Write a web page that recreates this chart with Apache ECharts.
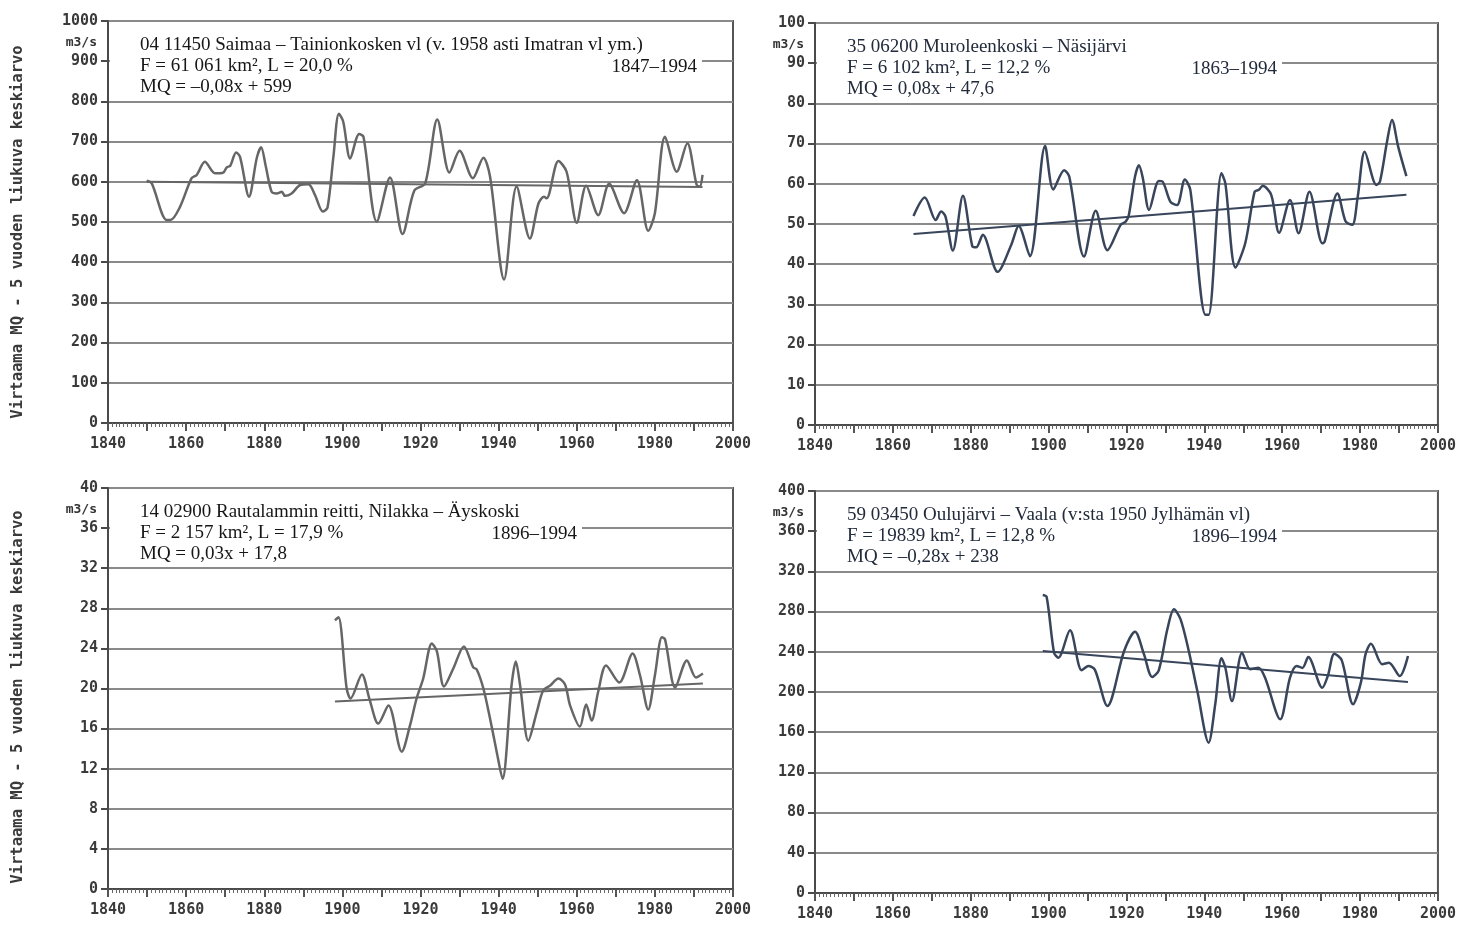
<!DOCTYPE html>
<html lang="fi">
<head>
    <meta charset="UTF-8">
    <title>Virtaama MQ - 5 vuoden liukuva keskiarvo</title>
    <script src="https://cdn.jsdelivr.net/npm/echarts@6/dist/echarts.min.js"></script>
    <style>
        html, body { margin: 0; padding: 0; background: #fff; }
        #chart { width: 1459px; height: 926px; }
    </style>
</head>
<body>
<div id="chart"></div>
<script>
    // 04 11450 Saimaa - Tainionkosken vl
    let saimaaYears = [1849.9, 1851.2, 1855, 1856, 1858.4, 1861.4, 1862.7, 1864.8, 1867.4, 1869.5, 1870.4, 1871.3, 1872.8, 1873.8, 1876.1, 1878.1, 1879.2, 1880.4, 1881.9, 1883.2, 1884.5, 1885.3, 1887, 1889.2, 1891.3, 1893, 1895, 1896.2, 1897.7, 1899.1, 1900.2, 1902, 1904.3, 1905.4, 1908.8, 1912.2, 1915.4, 1918.4, 1921.2, 1924.3, 1927.4, 1930, 1933.4, 1936.1, 1937.8, 1941.4, 1944.6, 1948, 1950.2, 1951.6, 1952.3, 1955.3, 1957.4, 1960, 1962.4, 1965.5, 1968.3, 1972.1, 1975.4, 1978.3, 1980, 1982.6, 1985.6, 1988.3, 1990.7, 1991.5, 1992.2];
    let saimaaFlow = [603, 596, 505, 505, 537, 609, 617, 650, 621, 623, 636, 640, 673, 662, 563, 660, 686, 638, 575, 571, 575, 565, 571, 592, 594, 567, 526, 536, 662, 769, 750, 658, 719, 712, 501, 611, 470, 578, 596, 755, 623, 677, 609, 660, 613, 357, 588, 459, 546, 563, 559, 652, 625, 498, 590, 517, 595, 522, 604, 478, 522, 712, 625, 696, 592, 588, 617];
    let saimaaTrendYears = [1849.9, 1992.2];
    let saimaaTrend = [600, 587];

    // 35 06200 Muroleenkoski - Näsijärvi
    let nasiYears = [1865.3, 1868.2, 1871.0, 1872.4, 1873.5, 1875.4, 1878.0, 1880.4, 1881.4, 1883.1, 1886.9, 1890.4, 1892.3, 1895.2, 1899.1, 1901.2, 1904.0, 1905.3, 1909.1, 1912.1, 1915.1, 1918.5, 1919.8, 1920.6, 1922.2, 1923.2, 1924.2, 1925.8, 1928.3, 1929.2, 1931.3, 1933.0, 1935.0, 1936.4, 1940.3, 1941.1, 1944.4, 1945.4, 1948.0, 1950.5, 1952.9, 1954.0, 1955.0, 1957.2, 1959.2, 1962.0, 1964.2, 1967.0, 1970.3, 1970.9, 1974.2, 1976.3, 1978.0, 1979.4, 1981.2, 1984.2, 1985.1, 1987.0, 1988.2, 1989.8, 1991.9];
    let nasiFlow = [52.0, 56.6, 51.0, 53.1, 51.9, 43.4, 57.0, 44.5, 44.2, 47.3, 38.1, 44.8, 49.5, 42.0, 69.4, 58.6, 63.4, 61.8, 41.9, 53.3, 43.5, 49.8, 50.6, 52.2, 61.8, 64.6, 61.4, 53.5, 60.7, 60.6, 55.5, 54.7, 61.1, 58.5, 27.4, 27.4, 62.6, 60.1, 39.2, 45.2, 58.0, 58.5, 59.5, 57.2, 47.8, 56.0, 47.7, 58.0, 45.2, 45.6, 57.6, 50.6, 49.8, 56.8, 68.0, 59.7, 60.5, 70.9, 75.9, 69.2, 61.9];
    let nasiTrendYears = [1865.3, 1991.9];
    let nasiTrend = [47.5, 57.3];

    // 14 02900 Rautalammin reitti, Nilakka - Äyskoski
    let nilakkaYears = [1898.1, 1899.0, 1901.1, 1902.1, 1905.0, 1906.9, 1909.2, 1911.8, 1915.2, 1917.3, 1919.0, 1920.7, 1922.9, 1924.2, 1926.0, 1928.4, 1931.1, 1933.5, 1934.4, 1936.1, 1937.8, 1939.5, 1941.0, 1943.3, 1944.4, 1945.5, 1947.6, 1949.8, 1951.4, 1953.2, 1955.3, 1957.0, 1958.3, 1960.8, 1962.4, 1963.8, 1965.5, 1967.5, 1970.9, 1974.3, 1976.2, 1978.3, 1980.0, 1981.8, 1982.6, 1985.2, 1988.2, 1990.5, 1992.3];
    let nilakkaFlow = [26.8, 27.1, 20.0, 19.0, 21.4, 19.0, 16.5, 18.3, 13.7, 16.3, 19.0, 21.0, 24.5, 23.7, 20.2, 22.0, 24.2, 22.1, 21.9, 20.0, 17.0, 13.7, 11.0, 20.3, 22.7, 20.3, 14.8, 17.7, 19.8, 20.3, 21.0, 20.4, 18.3, 16.2, 18.4, 16.8, 19.7, 22.3, 20.6, 23.5, 21.3, 17.9, 21.3, 25.1, 24.9, 20.1, 22.8, 21.1, 21.5];
    let nilakkaTrendYears = [1898.1, 1992.3];
    let nilakkaTrend = [18.7, 20.5];

    // 59 03450 Oulujärvi - Vaala
    let vaalaYears = [1898.5, 1899.5, 1901.4, 1902.5, 1905.5, 1908.5, 1910.2, 1911.9, 1915.1, 1919.4, 1922.2, 1924.5, 1926.6, 1928.3, 1930.5, 1932.2, 1933.9, 1936.0, 1938.2, 1941.1, 1942.8, 1944.4, 1945.4, 1947.1, 1949.7, 1951.8, 1953.9, 1955.6, 1959.5, 1962.0, 1963.7, 1965.2, 1966.7, 1970.3, 1971.7, 1973.4, 1975.3, 1978.2, 1980.2, 1981.4, 1982.8, 1985.7, 1987.4, 1990.2, 1992.3];
    let vaalaFlow = [296.5, 294.5, 239.1, 234.1, 261.4, 221.6, 225.9, 222, 186.1, 240.8, 260, 237.5, 214.9, 221.6, 262.4, 282.3, 272.3, 240.8, 201, 149.6, 187.8, 233.5, 224.2, 191, 239.1, 222.6, 224.2, 214.2, 172.8, 214.2, 225.9, 224, 234.8, 204.3, 215.9, 238.1, 231.5, 187.8, 209.3, 237.5, 248.1, 227.6, 229.2, 215.9, 235.8];
    let vaalaTrendYears = [1898.5, 1992.3];
    let vaalaTrend = [240.8, 210];

    let yMax = [1000, 100, 40, 400];
    let yStep = [100, 10, 4, 40];
    let headers = [
        ['04 11450 Saimaa – Tainionkosken vl (v. 1958 asti Imatran vl ym.)', 'F = 61 061 km², L = 20,0 %', 'MQ = –0,08x + 599', '1847–1994'],
        ['35 06200 Muroleenkoski – Näsijärvi', 'F = 6 102 km², L = 12,2 %', 'MQ = 0,08x + 47,6', '1863–1994'],
        ['14 02900 Rautalammin reitti, Nilakka – Äyskoski', 'F = 2 157 km², L = 17,9 %', 'MQ = 0,03x + 17,8', '1896–1994'],
        ['59 03450 Oulujärvi – Vaala (v:sta 1950 Jylhämän vl)', 'F = 19839 km², L = 12,8 %', 'MQ = –0,28x + 238', '1896–1994']
    ];

    let pairs = (xs, ys) => xs.map((x, i) => [x, ys[i]]);
    let mono = 'DejaVu Sans Mono';
    let serif = 'Liberation Serif';

    let grids = [
        {left: 108, top: 21, width: 625, height: 402},
        {left: 815, top: 23, width: 625, height: 402},
        {left: 108, top: 488, width: 625, height: 401},
        {left: 815, top: 491, width: 625, height: 402}
    ];
    let lineColors = ['#666666', '#38455a', '#666666', '#38455a'];
    let textColors = ['#161616', '#222b3b', '#161616', '#222b3b'];

    let xAxes = [], yAxes = [], series = [], graphic = [];
    let flows = [
        pairs(saimaaYears, saimaaFlow), pairs(nasiYears, nasiFlow),
        pairs(nilakkaYears, nilakkaFlow), pairs(vaalaYears, vaalaFlow)
    ];
    let trends = [
        pairs(saimaaTrendYears, saimaaTrend), pairs(nasiTrendYears, nasiTrend),
        pairs(nilakkaTrendYears, nilakkaTrend), pairs(vaalaTrendYears, vaalaTrend)
    ];

    for (let i = 0; i < 4; i++) {
        let g = grids[i];
        grids[i] = Object.assign({show: true, borderColor: '#555', borderWidth: 2, backgroundColor: '#fff'}, g);
        xAxes.push({
            type: 'value', gridIndex: i, min: 1840, max: 2000, interval: 10,
            axisLine: {show: true, onZero: false, lineStyle: {color: '#4a4a4a', width: 2}},
            axisTick: {show: true, length: 8, lineStyle: {color: '#555', width: 2}},
            minorTick: {show: true, splitNumber: 10, length: 4, lineStyle: {color: '#666', width: 1}},
            splitLine: {show: false},
            axisLabel: {
                margin: 14, fontFamily: mono, fontSize: 15, fontWeight: 'bold', color: '#3a3a3a',
                formatter: v => (v % 20 === 0 ? String(v) : '')
            }
        });
        yAxes.push({
            type: 'value', gridIndex: i, min: 0, max: yMax[i], interval: yStep[i],
            axisLine: {show: true, lineStyle: {color: '#4a4a4a', width: 2}},
            axisTick: {show: true, length: 7, lineStyle: {color: '#4a4a4a', width: 2}},
            splitLine: {show: true, lineStyle: {color: '#8a8a8a', width: 2}},
            axisLabel: {
                margin: 10, fontFamily: mono, fontSize: 15, fontWeight: 'bold', color: '#3a3a3a',
                formatter: v => String(v)
            }
        });
        series.push({
            type: 'line', xAxisIndex: i, yAxisIndex: i, data: flows[i],
            smooth: 0.3, symbol: 'none', z: 3,
            lineStyle: {color: lineColors[i], width: 2.5}
        });
        series.push({
            type: 'line', xAxisIndex: i, yAxisIndex: i, data: trends[i],
            symbol: 'none', z: 3,
            lineStyle: {color: lineColors[i], width: 2}
        });

        // header box covering the top gridline, like in the print
        let boxRight = i % 2 === 0 ? (i === 0 ? 702 : 582) : 1282;
        let bx = g.left + 2;
        let by = g.top + 9;
        graphic.push({
            type: 'rect', z: 50,
            shape: {x: bx, y: by, width: boxRight - bx, height: 65},
            style: {fill: '#fff'}
        });
        let tx = g.left + 32;
        for (let k = 0; k < 3; k++) {
            graphic.push({
                type: 'text', z: 51, x: tx, y: g.top + 24 + k * 21,
                style: {
                    text: headers[i][k], fill: textColors[i],
                    font: '19px "' + serif + '"', verticalAlign: 'middle'
                }
            });
        }
        graphic.push({
            type: 'text', z: 51, x: boxRight - 5, y: g.top + 46,
            style: {
                text: headers[i][3], fill: textColors[i],
                font: '19px "' + serif + '"', align: 'right', verticalAlign: 'middle'
            }
        });
        // unit under the top tick label
        graphic.push({
            type: 'text', z: 51, x: g.left - 11, y: g.top + 22,
            style: {
                text: 'm3/s', fill: '#333', font: 'bold 13px "' + mono + '"',
                align: 'right', verticalAlign: 'middle'
            }
        });
    }

    // vertical axis title, one for each row
    [232, 697].forEach(cy => {
        graphic.push({
            type: 'text', z: 51, x: 18, y: cy, rotation: Math.PI / 2,
            style: {
                text: 'Virtaama MQ - 5 vuoden liukuva keskiarvo', fill: '#3a3a3a',
                font: 'bold 15.5px "' + mono + '"', align: 'center', verticalAlign: 'middle'
            }
        });
    });

    let myChart = echarts.init(document.getElementById('chart'));
    myChart.setOption({
        animation: false,
        backgroundColor: '#fff',
        grid: grids,
        xAxis: xAxes,
        yAxis: yAxes,
        series: series,
        graphic: graphic
    });
</script>
</body>
</html>
